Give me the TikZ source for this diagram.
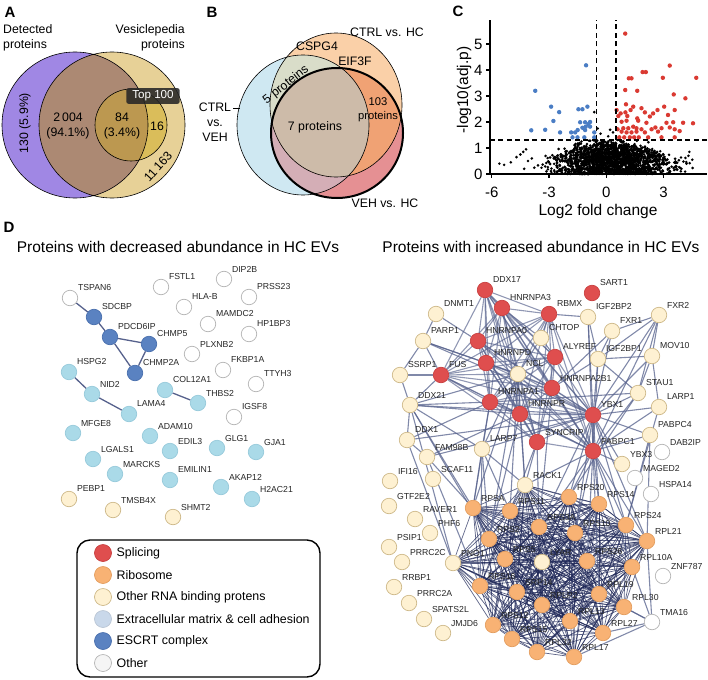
\documentclass[tikz,border=0pt]{standalone}
\usepackage{fontspec}
\setmainfont{Liberation Sans}
\pgfdeclarelayer{bg}
\pgfsetlayers{bg,main}
\definecolor{purpA}{HTML}{A087E4}
\definecolor{tanA}{HTML}{E7D197}
\definecolor{lensA}{HTML}{AC8973}
\definecolor{innA}{HTML}{DABD5A}
\definecolor{innlensA}{HTML}{BC9850}
\definecolor{blueB}{HTML}{CFE8F2}
\definecolor{peachB}{HTML}{FAD0A8}
\definecolor{redB}{HTML}{E59093}
\definecolor{grayB}{HTML}{D9DDC9}
\definecolor{mauveB}{HTML}{D4AEB6}
\definecolor{orangeB}{HTML}{F0A274}
\definecolor{brownB}{HTML}{CDBBA9}
\definecolor{blueP}{HTML}{4A7DC4}
\definecolor{redP}{HTML}{DA3A32}
\definecolor{splF}{HTML}{DF4E4E}
\definecolor{splD}{HTML}{C94040}
\definecolor{ribF}{HTML}{F8B274}
\definecolor{ribD}{HTML}{E39D5E}
\definecolor{rnaF}{HTML}{FEF1D2}
\definecolor{rnaD}{HTML}{CDB888}
\definecolor{ecmF}{HTML}{AADAE8}
\definecolor{ecmD}{HTML}{97CADB}
\definecolor{escF}{HTML}{5A82C1}
\definecolor{escD}{HTML}{4A70AE}
\definecolor{othD}{HTML}{B4B4B4}
\definecolor{edgeC}{HTML}{56618C}
\definecolor{navyC}{HTML}{1D2657}
\definecolor{legECM}{HTML}{C9D8EA}
\newcommand{\myfs}[2]{\fontsize{#1}{#2}\selectfont}
\tikzset{
  every node/.style={inner sep=0.5pt},
  txt/.style={font=\myfs{12.3}{15}},
  letter/.style={font=\myfs{15}{15}\bfseries},
  ttl/.style={font=\myfs{15.5}{16}},
  tick/.style={font=\myfs{15}{15}},
  lab/.style={font=\myfs{8.7}{9}, text=black!85, inner sep=0.3pt, anchor=west},
  nd/.style={circle, minimum size=15.5pt, inner sep=0pt, line width=0.7pt},
  spl/.style={nd, fill=splF, draw=splD},
  rib/.style={nd, fill=ribF, draw=ribD},
  rna/.style={nd, fill=rnaF, draw=rnaD},
  ecm/.style={nd, fill=ecmF, draw=ecmD},
  esc/.style={nd, fill=escF, draw=escD},
  oth/.style={nd, fill=white, draw=othD},
  ed/.style={draw=edgeC, line width=1.1pt, opacity=0.75},
  led/.style={draw=edgeC, line width=1.3pt},
  ribedge/.style={draw=navyC, line width=0.7pt, opacity=0.72},
  vline/.style={draw=black, line width=0.6pt},
  bdot/.style={fill=black},
  pdot/.style={fill=blueP},
  rdot/.style={fill=redP},
  legc/.style={circle, minimum size=17pt, inner sep=0pt, line width=0.7pt},
  legt/.style={font=\myfs{12.4}{13}, anchor=west},
}
\newcommand{\pn}[5]{\node[#4] (#1) at (#2,#3) {};\node[lab] (#1-l) at ([shift={(7.5,-10)}]#1.center) {#5};}
\begin{document}
\begin{tikzpicture}[x=1pt,y=-1pt]
\useasboundingbox (0,0) rectangle (708,679);
% ---------------- Panel A
\node[letter] (lA) at (10,12) {A};
\fill[tanA] (112,125) circle[radius=73pt];
\fill[purpA] (75,125) circle[radius=73pt];
\begin{scope}
\clip (75,125) circle[radius=73pt];
\fill[lensA] (112,125) circle[radius=73pt];
\end{scope}
\fill[innA] (131,125) circle[radius=36pt];
\begin{scope}
\clip (75,125) circle[radius=73pt];
\fill[innlensA] (131,125) circle[radius=36pt];
\end{scope}
\draw[vline] (75,125) circle[radius=73pt] (112,125) circle[radius=73pt] (131,125) circle[radius=36pt];
\node[txt, anchor=west, align=left] (detA) at (2.5,38) {Detected\\proteins};
\node[txt, anchor=east, align=right] (vesA) at (185.5,38) {Vesiclepedia\\proteins};
\node[txt, fill=black!85, fill opacity=0.88, text opacity=1, text=white, rounded corners=2pt, inner xsep=6pt, inner ysep=2.5pt, font=\myfs{11.6}{12}] (topA) at (153,96) {Top 100};
\node[txt, align=center] (n2004) at (68,126) {2\,004\\(94.1\%)};
\node[txt, align=center] (n84) at (122,126) {84\\(3.4\%)};
\node[txt] (n16) at (157,126) {16};
\node[txt, rotate=90] (n130) at (25,123) {130 (5.9\%)};
\node[txt, rotate=48] (n11163) at (158,167) {11\,163};
% ---------------- Panel B
\node[letter] (lB) at (212,12) {B};
\fill[blueB] (303,125) ellipse[x radius=66pt, y radius=70pt];
\fill[peachB] (336,105) ellipse[x radius=66pt, y radius=72pt];
\fill[redB] (337,133) ellipse[x radius=66pt, y radius=65pt];
\begin{scope}
\clip (303,125) ellipse[x radius=66pt, y radius=70pt];
\fill[grayB] (336,105) ellipse[x radius=66pt, y radius=72pt];
\fill[mauveB] (337,133) ellipse[x radius=66pt, y radius=65pt];
\end{scope}
\begin{scope}
\clip (336,105) ellipse[x radius=66pt, y radius=72pt];
\fill[orangeB] (337,133) ellipse[x radius=66pt, y radius=65pt];
\clip (303,125) ellipse[x radius=66pt, y radius=70pt];
\fill[brownB] (337,133) ellipse[x radius=66pt, y radius=65pt];
\end{scope}
\draw[vline] (303,125) ellipse[x radius=66pt, y radius=70pt];
\draw[vline] (336,105) ellipse[x radius=66pt, y radius=72pt];
\draw[line width=2pt] (337,133) ellipse[x radius=66pt, y radius=65pt];
\node[txt, align=center] (cvB) at (215,122) {CTRL\\vs.\\VEH};
\coordinate (blA) at (233,108);
\coordinate (blB) at (240,108);
\draw[line width=0.7pt] (blA) -- (blB);
\node[txt] (chB) at (387,32) {CTRL vs. HC};
\node[txt] (cspB) at (317,46) {CSPG4};
\node[txt] (eifB) at (355,61) {EIF3F};
\node[txt, rotate=38] (p5B) at (286,85) {5 proteins};
\node[txt] (p7B) at (315,127) {7 proteins};
\node[txt, align=center, font=\myfs{11.2}{14}] (p103B) at (378,110) {103\\proteins};
\node[txt] (vhB) at (385,203) {VEH vs. HC};
% ---------------- Panel C
\node[letter] (lC) at (458,11) {C};
\node[tick, rotate=90, font=\myfs{15.5}{16}] (ylabC) at (464,90) {-log10(adj.p)};
\node[tick, font=\myfs{15.5}{16}] (xlabC) at (598,211) {Log2 fold change};
\begin{scope}[xshift=606.3pt, yshift=-174pt, x=19.1pt, y=26pt]
\pgfmathsetseed{4242}
\foreach \k in {1,...,1900}{%
  \pgfmathsetmacro{\xx}{1.45*(rand+rand+rand)+0.3}%
  \pgfmathsetmacro{\yy}{1.36*exp(-((\xx)*(\xx))/22)*rnd*(0.7+0.3*rnd)}%
  \fill[bdot] (\xx,\yy) circle[radius=1.45pt];
}
\foreach \xx/\yy in {-5.6/0.4,-5.35/0.35,-5.0/0.45,-4.7/0.65,-4.5/0.75,-4.35/0.85,-4.2/0.95,-4.3/0.2,-4.1/0.5,-3.9/0.6,4.3/0.7,4.5/0.55,4.2/0.4,4.35/0.85,-0.63/2.38,0.2/1.7,-0.3/1.55,0.35/1.6,0.1/1.45,-0.45/1.75,-1.3/1.25,-0.9/1.28,1.6/1.28,2.2/1.22}{
  \fill[bdot] (\xx,\yy) circle[radius=1.45pt];
}
\foreach \xx/\yy in {-1.06/4.18,-3.72/3.2,-2.89/2.59,-2.47/2.38,-2.77/2.04,-3.93/1.68,-3.2/1.7,-2.42/1.6,-1.46/2.49,-1.25/2.49,-0.99/2.59,-1.37/1.99,-1.11/1.99,-0.94/1.92,-0.85/1.82,-1.25/1.78,-1.5/1.69,-1.84/1.6,-1.63/1.6,-1.11/1.69,-0.63/1.6,-1.77/1.41,-1.51/1.41,-1.15/1.41,-0.63/1.41,-1.08/1.82,-0.85/2.0}{
  \fill[pdot] (\xx,\yy) circle[radius=2.2pt];
}
\foreach \xx/\yy in {0.99/5.4,3.32/4.17,1.9/3.92,2.07/3.92,1.18/3.68,1.32/3.68,2.96/3.7,4.71/3.7,0.99/3.23,1.62/3.2,3.53/3.06,4.14/2.91,1.03/2.68,1.41/2.59,1.84/2.53,3.03/2.59,3.58/2.46,2.68/2.46,0.54/2.46,0.75/2.33,1.0/2.37,1.27/2.46,2.02/2.37,2.28/2.21,0.63/2.23,1.1/2.23,1.62/2.14,2.45/2.33,3.23/2.27,0.8/2.01,1.06/2.05,1.67/2.05,2.1/1.97,3.15/1.97,3.5/1.99,4.02/1.97,4.54/1.95,0.59/1.72,0.89/1.76,1.15/1.76,1.41/1.82,1.58/1.76,1.84/1.72,2.37/1.72,2.57/1.79,2.89/1.76,3.32/1.79,3.58/1.72,3.84/1.65,0.8/1.63,1.06/1.6,1.32/1.6,1.58/1.63,2.02/1.6,2.71/1.63,0.68/1.41,0.94/1.41,1.23/1.41,1.46/1.41,1.7/1.41,2.19/1.41,2.89/1.41,3.58/1.41}{
  \fill[rdot] (\xx,\yy) circle[radius=2.2pt];
}
\draw[line width=1.4pt, dash pattern=on 5pt off 3.5pt] (-0.5,0) -- (-0.5,5.92);
\draw[line width=1.4pt, dash pattern=on 5pt off 3.5pt] (0.5,0) -- (0.5,5.92);
\draw[line width=1.4pt, dash pattern=on 5pt off 3.5pt] (-6.09,1.3) -- (5.27,1.3);
\draw[line width=1.5pt] (-6.09,5.92) -- (-6.09,0) -- (5.27,0);
\foreach \v in {0,...,5}{
  \draw[line width=1.2pt] (-6.09,\v) -- (-6.3,\v);
  \node[tick, anchor=east] (yt\v) at (-6.45,\v) {\v};
}
\foreach \v in {-6,-3,0,3}{
  \draw[line width=1.2pt] (\v,0) -- (\v,-0.15);
  \node[tick] (xt\v) at (\v,-0.69) {\v};
}
\end{scope}
% ---------------- Panel D titles
\node[letter] (lD) at (9,227) {D};
\node[ttl] (ttlL) at (178,247) {Proteins with decreased abundance in HC EVs};
\node[ttl] (ttlR) at (541,247) {Proteins with increased abundance in HC EVs};
% ---------------- Left network
\pn{TSPAN6}{70}{298}{oth}{TSPAN6}
\pn{SDCBP}{94}{317}{esc}{SDCBP}
\pn{PDCD6IP}{110}{337}{esc}{PDCD6IP}
\pn{CHMP5}{149}{344}{esc}{CHMP5}
\pn{CHMP2A}{135}{373}{esc}{CHMP2A}
\pn{FSTL1}{161}{287}{oth}{FSTL1}
\pn{DIP2B}{224}{279}{oth}{DIP2B}
\pn{PRSS23}{249}{297}{oth}{PRSS23}
\pn{HLAB}{184}{307}{oth}{HLA-B}
\pn{MAMDC2}{208}{324}{oth}{MAMDC2}
\pn{HP1BP3}{249}{334}{oth}{HP1BP3}
\pn{PLXNB2}{192}{354}{oth}{PLXNB2}
\pn{FKBP1A}{223}{370}{oth}{FKBP1A}
\pn{TTYH3}{256}{384}{oth}{TTYH3}
\pn{HSPG2}{69}{372}{ecm}{HSPG2}
\pn{NID2}{92}{394}{ecm}{NID2}
\pn{COL12A1}{165}{390}{ecm}{COL12A1}
\pn{THBS2}{198}{403}{ecm}{THBS2}
\pn{LAMA4}{129}{414}{ecm}{LAMA4}
\pn{IGSF8}{234}{417}{oth}{IGSF8}
\pn{MFGE8}{73}{433}{ecm}{MFGE8}
\pn{ADAM10}{150}{436}{ecm}{ADAM10}
\pn{EDIL3}{170}{451}{ecm}{EDIL3}
\pn{GLG1}{217}{448}{ecm}{GLG1}
\pn{GJA1}{256}{452}{ecm}{GJA1}
\pn{LGALS1}{93}{459}{ecm}{LGALS1}
\pn{MARCKS}{115}{474}{ecm}{MARCKS}
\pn{EMILIN1}{170}{480}{ecm}{EMILIN1}
\pn{AKAP12}{221}{487}{ecm}{AKAP12}
\pn{H2AC21}{252}{499}{ecm}{H2AC21}
\pn{PEBP1}{69}{499}{rna}{PEBP1}
\pn{TMSB4X}{113}{510}{rna}{TMSB4X}
\pn{SHMT2}{173}{517}{rna}{SHMT2}
\begin{pgfonlayer}{bg}
\foreach \a/\b in {TSPAN6/SDCBP,SDCBP/PDCD6IP,PDCD6IP/CHMP5,PDCD6IP/CHMP2A,CHMP5/CHMP2A,HSPG2/NID2,NID2/LAMA4,COL12A1/THBS2}{
  \draw[led] (\a) -- (\b);
}
\end{pgfonlayer}
% ---------------- Legend
\draw[line width=1.4pt, rounded corners=13pt] (77,540) rectangle (320,677);
\foreach \i/\f/\d/\t in {1/splF/splD/Splicing,2/ribF/ribD/Ribosome,3/rnaF/rnaD/Other RNA binding protens,4/legECM/legECM!80!gray/Extracellular matrix \& cell adhesion,5/escF/escD/ESCRT complex,6/black!4/othD/Other}{
  \node[legc, fill=\f, draw=\d] (lg\i) at (103,531+22*\i) {};
  \node[legt] (lt\i) at (116,531+22*\i) {\t};
}
% ---------------- Right network
\pn{DDX17}{485}{290}{spl}{DDX17}
\pn{SART1}{592}{293}{spl}{SART1}
\pn{HNRNPA3}{502}{308}{spl}{HNRNPA3}
\pn{RBMX}{549}{314}{spl}{RBMX}
\pn{DNMT1}{436}{314}{rna}{DNMT1}
\pn{IGF2BP2}{588}{317}{rna}{IGF2BP2}
\pn{FXR2}{659}{315}{rna}{FXR2}
\pn{FXR1}{612}{331}{rna}{FXR1}
\pn{PARP1}{423}{341}{rna}{PARP1}
\pn{HNRNPA0}{478}{341}{spl}{HNRNPA0}
\pn{CHTOP}{541}{338}{rna}{CHTOP}
\pn{ALYREF}{555}{357}{spl}{ALYREF}
\pn{IGF2BP1}{598}{359}{rna}{IGF2BP1}
\pn{MOV10}{652}{356}{rna}{MOV10}
\pn{HNRNPD}{486}{363}{spl}{HNRNPD}
\pn{SSRP1}{400}{375}{rna}{SSRP1}
\pn{FUS}{441}{375}{spl}{FUS}
\pn{NCL}{518}{374}{rna}{NCL}
\pn{HNRNPA2B1}{552}{388}{spl}{HNRNPA2B1}
\pn{STAU1}{638}{393}{rna}{STAU1}
\pn{HNRNPA1}{490}{402}{spl}{HNRNPA1}
\pn{DDX21}{410}{405}{rna}{DDX21}
\pn{LARP1}{659}{407}{rna}{LARP1}
\pn{HNRNPR}{520}{414}{spl}{HNRNPR}
\pn{YBX1}{593}{415}{spl}{YBX1}
\pn{DDX1}{407}{440}{rna}{DDX1}
\pn{PABPC4}{650}{435}{rna}{PABPC4}
\pn{SYNCRIP}{537}{442}{spl}{SYNCRIP}
\pn{LARP7}{482}{449}{rna}{LARP7}
\pn{FAM98B}{427}{457}{rna}{FAM98B}
\pn{PABPC1}{593}{451}{spl}{PABPC1}
\pn{DAB2IP}{662}{452}{oth}{DAB2IP}
\pn{YBX3}{622}{464}{rna}{YBX3}
\pn{MAGED2}{635}{478}{oth}{MAGED2}
\pn{IFI16}{390}{481}{rna}{IFI16}
\pn{SCAF11}{433}{479}{rna}{SCAF11}
\pn{RACK1}{525}{485}{rna}{RACK1}
\pn{HSPA14}{651}{494}{oth}{HSPA14}
\pn{RPS20}{569}{497}{rib}{RPS20}
\pn{RPS14}{599}{504}{rib}{RPS14}
\pn{GTF2E2}{389}{506}{rna}{GTF2E2}
\pn{RPSA}{473}{508}{rib}{RPSA}
\pn{RPS11}{510}{511}{rib}{RPS11}
\pn{RAVER1}{415}{519}{rna}{RAVER1}
\pn{RPS3A}{539}{527}{rib}{RPS3A}
\pn{RPS24}{626}{525}{rib}{RPS24}
\pn{RPS10}{575}{533}{rib}{RPS10}
\pn{PHF6}{430}{533}{rna}{PHF6}
\pn{RPS2}{489}{539}{rib}{RPS2}
\pn{RPL21}{647}{541}{rib}{RPL21}
\pn{PSIP1}{389}{547}{rna}{PSIP1}
\pn{PRRC2C}{402}{562}{rna}{PRRC2C}
\pn{PNO1}{453}{563}{rna}{PNO1}
\pn{RPS5}{505}{559}{rib}{RPS5}
\pn{LYAR}{542}{562}{rna}{LYAR}
\pn{RPS26}{587}{561}{rib}{RPS26}
\pn{RPL10A}{632}{567}{rib}{RPL10A}
\pn{ZNF787}{663}{576}{oth}{ZNF787}
\pn{RRBP1}{394}{587}{rna}{RRBP1}
\pn{RPS16}{480}{586}{rib}{RPS16}
\pn{SRP14}{517}{592}{rib}{SRP14}
\pn{RPL19}{599}{594}{rib}{RPL19}
\pn{PRRC2A}{409}{603}{rna}{PRRC2A}
\pn{RPLP2}{542}{605}{rib}{RPLP2}
\pn{RPL30}{624}{607}{rib}{RPL30}
\pn{SPATS2L}{424}{619}{rna}{SPATS2L}
\pn{TMA16}{652}{622}{oth}{TMA16}
\pn{RPS12}{493}{625}{rib}{RPS12}
\pn{RPL13}{570}{621}{rib}{RPL13}
\pn{JMJD6}{443}{633}{rna}{JMJD6}
\pn{RPL27}{603}{633}{rib}{RPL27}
\pn{RPS15}{512}{639}{rib}{RPS15}
\pn{RPL32}{537}{652}{rib}{RPL32}
\pn{RPL17}{574}{657}{rib}{RPL17}
\def\riblist{RPS20,RPS14,RPSA,RPS11,RPS3A,RPS24,RPS10,RPS2,RPL21,RPS5,RPS26,RPL10A,RPS16,SRP14,RPL19,RPLP2,RPL30,RPS12,RPL13,RPL27,RPS15,RPL32,RPL17,LYAR,PNO1,RACK1}
\def\spllist{DDX17,HNRNPA3,RBMX,HNRNPA0,HNRNPD,ALYREF,FUS,HNRNPA2B1,HNRNPA1,HNRNPR,YBX1,SYNCRIP,PABPC1,NCL}
\begin{pgfonlayer}{bg}
\foreach \a [count=\i] in \riblist {
  \foreach \b [count=\j] in \riblist {
    \ifnum\i<\j \draw[ribedge] (\a) -- (\b); \fi
  }
}
\foreach \a [count=\i] in \spllist {
  \foreach \b [count=\j] in \spllist {
    \ifnum\i<\j \draw[ed, opacity=0.65] (\a) -- (\b); \fi
  }
}
\foreach \a/\b in {CHTOP/RBMX,CHTOP/ALYREF,CHTOP/HNRNPA3,CHTOP/NCL,DNMT1/PARP1,DNMT1/HNRNPA0,PARP1/SSRP1,PARP1/FUS,PARP1/HNRNPD,PARP1/NCL,PARP1/YBX1,SSRP1/FUS,SSRP1/DDX21,DDX21/DDX1,DDX21/FUS,DDX21/HNRNPA1,DDX21/HNRNPR,DDX21/YBX1,DDX21/NCL,DDX21/LARP7,DDX1/FAM98B,DDX1/HNRNPA1,DDX1/YBX1,FAM98B/HNRNPR,FAM98B/YBX1,LARP7/HNRNPA1,LARP7/YBX1,LARP7/NCL,IGF2BP2/YBX1,IGF2BP2/IGF2BP1,IGF2BP2/RBMX,IGF2BP2/PABPC1,FXR1/FXR2,FXR1/IGF2BP1,FXR1/YBX1,FXR1/HNRNPA2B1,FXR2/MOV10,FXR2/YBX1,FXR2/STAU1,FXR2/PABPC1,FXR2/IGF2BP1,IGF2BP1/MOV10,IGF2BP1/YBX1,IGF2BP1/PABPC1,IGF2BP1/STAU1,IGF2BP1/HNRNPA2B1,MOV10/YBX1,MOV10/STAU1,MOV10/LARP1,STAU1/YBX1,STAU1/PABPC1,STAU1/HNRNPA1,LARP1/YBX1,LARP1/PABPC1,PABPC4/PABPC1,PABPC4/YBX1,YBX3/PABPC1,YBX3/YBX1,LARP7/RPSA,LARP7/RPS11,LARP7/RPS2,LARP7/RPS16,LARP7/RACK1,SYNCRIP/RPS3A,SYNCRIP/RPS11,SYNCRIP/RACK1,HNRNPR/RPS2,HNRNPR/RACK1,HNRNPA1/RPSA,YBX1/RPS20,YBX1/RPS14,YBX1/RPS24,YBX1/RPS10,YBX1/RPL21,YBX1/RPS3A,PABPC1/RPS20,PABPC1/RPS14,PABPC1/RPS24,PABPC1/RPS10,PABPC1/RPS26,PABPC1/RPL10A,PABPC1/RPL21,PABPC1/RPS3A,PABPC1/RACK1,PABPC1/RPL19,NCL/RPSA,NCL/RPS11,NCL/RPS2,NCL/RACK1,DDX21/RPSA,DDX21/RPS2,DDX21/PNO1,HNRNPA2B1/RPS3A,PABPC4/RPL21,PABPC4/RPS24,LARP1/RPS24,STAU1/RPS20,FAM98B/RPSA,FAM98B/RPS16,DDX1/PNO1,TMA16/RPL27,TMA16/RPL30,TMA16/RPL19,TMA16/RPL17,TMA16/RPL10A,TMA16/RPL21}{
  \draw[ed] (\a) -- (\b);
}
\end{pgfonlayer}
\end{tikzpicture}
\end{document}
